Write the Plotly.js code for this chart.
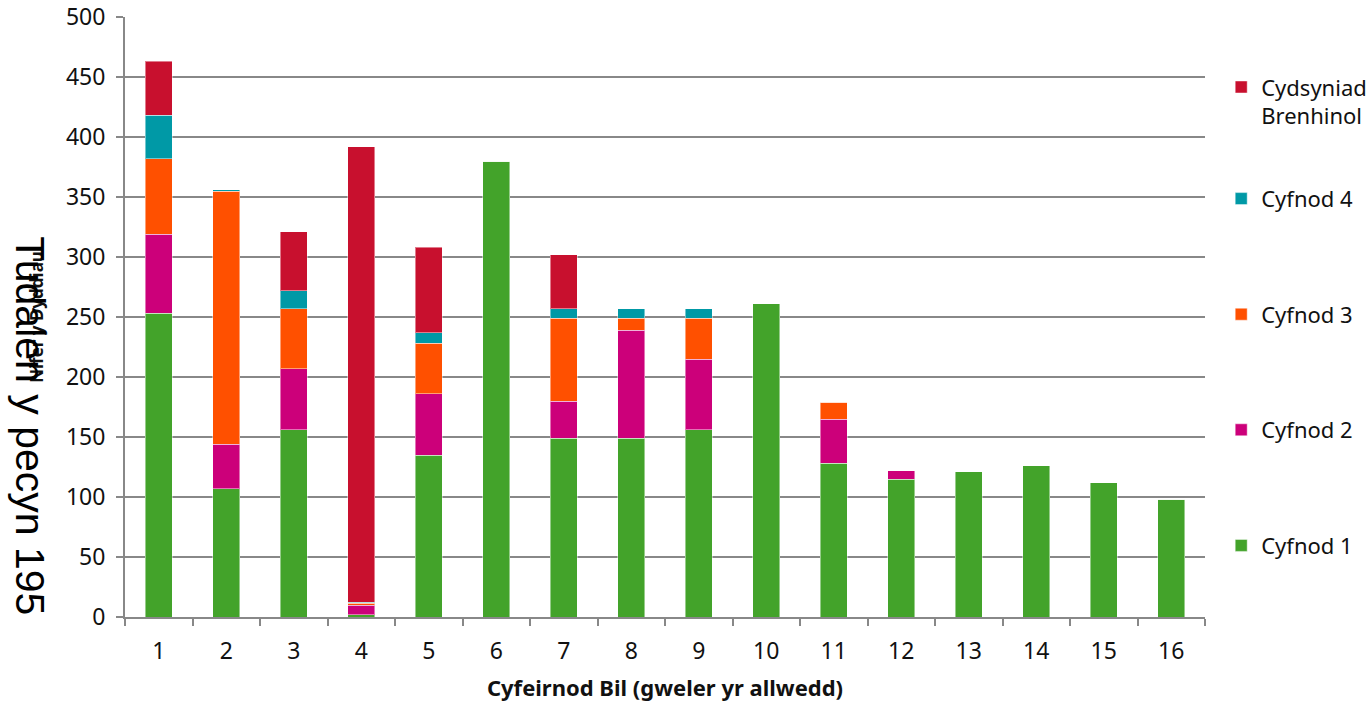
<!DOCTYPE html>
<html>
<head>
<meta charset="utf-8">
<script src="https://cdn.plot.ly/plotly-3.0.1.min.js"></script>
<style>html,body{margin:0;padding:0;background:#fff;}#chart{width:1370px;height:706px;}</style>
</head>
<body>
<div id="chart"></div>
<script>
const categories = ["1","2","3","4","5","6","7","8","9","10","11","12","13","14","15","16"];
const cyfnod1 = [253, 107, 156, 2, 135, 380, 149, 149, 156, 261, 128, 115, 121, 126, 112, 98];
const cyfnod2 = [66, 37, 51, 8, 51, 0, 31, 90, 59, 0, 37, 7, 0, 0, 0, 0];
const cyfnod3 = [63, 211, 50, 1.5, 42, 0, 69, 10, 34, 0, 14, 0, 0, 0, 0, 0];
const cyfnod4 = [36, 1, 15, 1, 9, 0, 8, 8, 8, 0, 0, 0, 0, 0, 0, 0];
const cydsyniad = [45, 0, 49, 379.5, 71, 0, 45, 0, 0, 0, 0, 0, 0, 0, 0, 0];
const seriesNames = ["Cyfnod 1", "Cyfnod 2", "Cyfnod 3", "Cyfnod 4", "Cydsyniad<br>Brenhinol"];
const seriesColors = ["#43A32A", "#CC007A", "#FF5000", "#0099A6", "#C8102E"];
const seriesValues = [cyfnod1, cyfnod2, cyfnod3, cyfnod4, cydsyniad];
const yTickVals = [0,50,100,150,200,250,300,350,400,450,500];

const font = "'Noto Sans', 'Open Sans', sans-serif";
const traces = seriesValues.map((v, i) => ({
  type: "bar",
  x: categories,
  y: v,
  name: seriesNames[i],
  legend: i === 4 ? "legend2" : "legend",
  legendgroup: "g" + i,
  legendrank: 100 - i,
  marker: {color: seriesColors[i], line: {color: "rgba(255,255,255,0.45)", width: 1}},
  hoverinfo: "x+y+name"
}));

const legendFont = {family: font, size: 22, color: "#111"};
const layout = {
  width: 1370, height: 706,
  barmode: "stack",
  bargap: 0.6,
  paper_bgcolor: "#fff", plot_bgcolor: "#fff",
  margin: {l: 125, r: 165, t: 17, b: 89, autoexpand: false},
  font: {family: font, size: 23, color: "#111"},
  showlegend: true,
  legend: {
    x: 1.015, xanchor: "left", y: 0.732, yanchor: "top",
    traceorder: "grouped",
    tracegroupgap: 84,
    valign: "top",
    font: legendFont,
    itemclick: false
  },
  legend2: {
    x: 1.015, xanchor: "left", y: 0.918, yanchor: "top",
    valign: "top",
    font: legendFont,
    itemclick: false
  },
  xaxis: {
    type: "category",
    tickson: "boundaries",
    ticks: "outside", ticklen: 7, tickcolor: "#888", tickwidth: 2,
    ticklabelstandoff: 12,
    showline: true, linecolor: "#888", linewidth: 2,
    showgrid: false,
    tickfont: {family: font, size: 23, color: "#111"},
    title: {text: "<b>Cyfeirnod Bil (gweler yr allwedd)</b>", font: {family: font, size: 22, color: "#111"}, standoff: 16}
  },
  yaxis: {
    range: [0, 500],
    tickvals: yTickVals,
    ticks: "outside", ticklen: 7, tickcolor: "#888", tickwidth: 2,
    ticklabelstandoff: 6,
    showline: true, linecolor: "#888", linewidth: 2,
    showgrid: true, gridcolor: "#888", gridwidth: 2,
    zeroline: false,
    tickfont: {family: font, size: 23, color: "#111"},
    title: {text: "<b>Nifer y Dyddiau</b>", font: {family: font, size: 17, color: "#111"}, standoff: 18}
  },
  annotations: [{
    xref: "paper", yref: "paper",
    x: -0.088, y: 0.318, xanchor: "center", yanchor: "middle",
    textangle: 90,
    text: "Tudalen y pecyn 195",
    showarrow: false,
    font: {family: "'Liberation Sans', Arial, sans-serif", size: 41, color: "#000"}
  }]
};

Plotly.newPlot("chart", traces, layout, {displayModeBar: false});
</script>
</body>
</html>
